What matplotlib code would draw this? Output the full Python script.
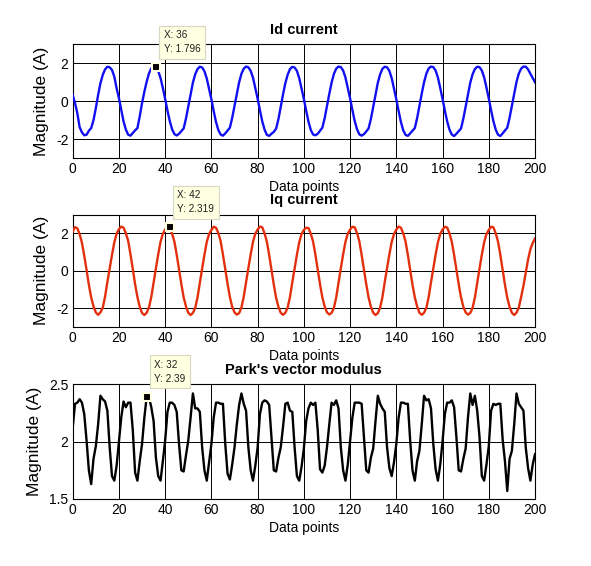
import matplotlib
matplotlib.use("Agg")
import matplotlib.pyplot as plt

plt.rcParams['font.family'] = ['Liberation Sans', 'DejaVu Sans']

# ---------------- data ----------------
id_current = [
    0.33, -0.10, -0.63, -1.37, -1.65, -1.80, -1.77, -1.56, -1.42, -1.00, -0.37, 0.33, 0.95, 1.39, 1.68, 1.82, 1.79, 1.65, 1.30, 0.68,
    0.16, -0.46, -1.07, -1.50, -1.77, -1.82, -1.68, -1.54, -1.42, -0.80, -0.10, 0.50, 1.03, 1.47, 1.74, 1.82, 1.796, 1.60, 1.22, 0.70,
    0.12, -0.50, -1.05, -1.48, -1.74, -1.81, -1.72, -1.58, -1.44, -0.92, -0.28, 0.35, 0.98, 1.42, 1.70, 1.82, 1.78, 1.58, 1.20, 0.66,
    0.10, -0.52, -1.10, -1.52, -1.76, -1.82, -1.70, -1.55, -1.40, -0.88, -0.25, 0.40, 1.00, 1.45, 1.72, 1.83, 1.79, 1.60, 1.24, 0.70,
    0.14, -0.48, -1.06, -1.50, -1.78, -1.83, -1.72, -1.62, -1.45, -0.95, -0.30, 0.36, 0.96, 1.40, 1.70, 1.81, 1.78, 1.60, 1.22, 0.68,
    0.12, -0.50, -1.08, -1.52, -1.76, -1.80, -1.72, -1.56, -1.40, -0.90, -0.26, 0.38, 0.98, 1.44, 1.72, 1.83, 1.80, 1.62, 1.25, 0.70,
    0.15, -0.47, -1.05, -1.48, -1.75, -1.82, -1.74, -1.60, -1.44, -0.94, -0.30, 0.34, 0.97, 1.42, 1.71, 1.82, 1.79, 1.60, 1.22, 0.66,
    0.10, -0.52, -1.10, -1.54, -1.78, -1.83, -1.70, -1.56, -1.42, -0.90, -0.24, 0.40, 1.00, 1.45, 1.73, 1.83, 1.80, 1.62, 1.25, 0.70,
    0.12, -0.50, -1.06, -1.50, -1.76, -1.84, -1.72, -1.58, -1.44, -0.92, -0.28, 0.36, 0.98, 1.42, 1.70, 1.82, 1.80, 1.62, 1.26, 0.72,
    0.15, -0.48, -1.05, -1.50, -1.77, -1.84, -1.70, -1.55, -1.40, -0.88, -0.24, 0.40, 1.02, 1.46, 1.72, 1.83, 1.82, 1.68, 1.45, 1.22,
    1.00,
]

iq_current = [
    2.09, 2.33, 2.27, 1.95, 1.50, 0.80, 0.05, -0.75, -1.42, -1.90, -2.22, -2.35, -2.22, -1.97, -1.38, -0.60, 0.12, 0.85, 1.52, 1.98,
    2.22, 2.36, 2.30, 2.00, 1.60, 0.88, 0.10, -0.72, -1.40, -1.92, -2.25, -2.36, -2.24, -1.95, -1.40, -0.62, 0.14, 0.88, 1.55, 1.98,
    2.20, 2.34, 2.319, 1.98, 1.55, 0.85, 0.08, -0.70, -1.42, -1.90, -2.24, -2.36, -2.25, -1.98, -1.42, -0.64, 0.12, 0.86, 1.54, 1.96,
    2.18, 2.35, 2.30, 2.02, 1.58, 0.86, 0.10, -0.70, -1.40, -1.92, -2.22, -2.34, -2.26, -1.96, -1.38, -0.60, 0.15, 0.88, 1.55, 1.98,
    2.20, 2.36, 2.32, 2.00, 1.55, 0.84, 0.06, -0.74, -1.44, -1.92, -2.24, -2.35, -2.24, -1.96, -1.40, -0.62, 0.12, 0.86, 1.52, 1.96,
    2.18, 2.30, 2.28, 1.98, 1.56, 0.86, 0.08, -0.72, -1.42, -1.90, -2.22, -2.33, -2.25, -1.98, -1.42, -0.64, 0.14, 0.88, 1.55, 1.98,
    2.20, 2.35, 2.32, 2.02, 1.58, 0.85, 0.08, -0.72, -1.42, -1.92, -2.24, -2.36, -2.26, -1.96, -1.40, -0.60, 0.14, 0.88, 1.54, 1.96,
    2.20, 2.36, 2.30, 2.00, 1.56, 0.84, 0.06, -0.74, -1.42, -1.90, -2.24, -2.35, -2.24, -1.97, -1.40, -0.62, 0.12, 0.86, 1.52, 1.97,
    2.20, 2.35, 2.31, 2.00, 1.55, 0.85, 0.08, -0.72, -1.42, -1.92, -2.22, -2.34, -2.25, -1.98, -1.42, -0.64, 0.12, 0.86, 1.52, 1.96,
    2.18, 2.35, 2.32, 2.00, 1.56, 0.85, 0.06, -0.74, -1.44, -1.92, -2.24, -2.36, -2.24, -1.96, -1.40, -0.80, -0.10, 0.60, 1.15, 1.48,
    1.72,
]

park_modulus = [
    2.12, 2.33, 2.34, 2.37, 2.34, 2.24, 2.01, 1.75, 1.63, 1.85, 1.96, 2.15, 2.40, 2.37, 2.35, 2.27, 1.95, 1.70, 1.66, 1.79,
    2.00, 2.21, 2.35, 2.30, 2.34, 2.34, 2.10, 1.73, 1.66, 1.83, 1.98, 2.21, 2.39, 2.39, 2.30, 2.18, 1.86, 1.70, 1.66, 1.83,
    2.01, 2.26, 2.34, 2.34, 2.32, 2.26, 1.98, 1.75, 1.74, 1.88, 2.01, 2.21, 2.42, 2.29, 2.29, 2.26, 1.95, 1.75, 1.66, 1.82,
    1.98, 2.21, 2.34, 2.34, 2.33, 2.33, 1.98, 1.72, 1.67, 1.80, 1.95, 2.15, 2.32, 2.42, 2.33, 2.27, 1.95, 1.75, 1.66, 1.79,
    1.95, 2.24, 2.34, 2.36, 2.35, 2.32, 2.04, 1.75, 1.74, 1.86, 1.95, 2.13, 2.33, 2.34, 2.27, 2.26, 1.95, 1.70, 1.66, 1.78,
    1.94, 2.18, 2.29, 2.34, 2.32, 2.34, 2.10, 1.76, 1.73, 1.79, 1.95, 2.15, 2.34, 2.32, 2.36, 2.29, 1.95, 1.75, 1.66, 1.80,
    2.01, 2.21, 2.34, 2.34, 2.34, 2.33, 2.04, 1.75, 1.73, 1.86, 1.94, 2.18, 2.40, 2.33, 2.29, 2.26, 1.95, 1.77, 1.70, 1.82,
    1.98, 2.21, 2.34, 2.34, 2.33, 2.33, 2.01, 1.75, 1.66, 1.83, 1.92, 2.15, 2.40, 2.36, 2.37, 2.29, 1.98, 1.76, 1.66, 1.80,
    2.00, 2.24, 2.34, 2.34, 2.36, 2.30, 2.04, 1.75, 1.74, 1.85, 1.94, 2.21, 2.42, 2.32, 2.40, 2.27, 2.04, 1.70, 1.66, 1.80,
    1.96, 2.27, 2.33, 2.32, 2.33, 2.33, 2.02, 1.83, 1.57, 1.85, 1.92, 2.15, 2.42, 2.33, 2.30, 2.27, 1.95, 1.77, 1.66, 1.80,
    1.89,
]

data_points = list(range(len(id_current)))

titles = ["Id current", "Iq current", "Park's vector modulus"]
series = [id_current, iq_current, park_modulus]
colors = ["#1010f0", "#e2300e", "#000000"]
ylims = [(-3, 3), (-3, 3), (1.5, 2.5)]
yticks = [[-2, 0, 2], [-2, 0, 2], [1.5, 2, 2.5]]
ytick_labels = [["-2", "0", "2"], ["-2", "0", "2"], ["1.5", "2", "2.5"]]
xticks = list(range(0, 201, 20))
tip_x = [36, 42, 32]

# ---------------- layout ----------------
W, H = 591, 566
fig = plt.figure(figsize=(W / 100, H / 100), dpi=100)
fig.patch.set_facecolor("white")

boxes_px = [(72.7, 44.4, 535.0, 158.0), (72.7, 214.6, 535.0, 327.0), (72.7, 384.3, 535.0, 499.0)]

for i in range(3):
    l, t, r, b = boxes_px[i]
    ax = fig.add_axes([l / W, 1 - b / H, (r - l) / W, (b - t) / H])
    ax.plot(data_points, series[i], color=colors[i], lw=1.7, zorder=3)
    ax.set_xlim(0, 200)
    ax.set_ylim(*ylims[i])
    ax.set_xticks(xticks)
    ax.set_yticks(yticks[i])
    ax.set_yticklabels(ytick_labels[i])
    ax.grid(True, color="black", lw=0.7)
    ax.set_axisbelow(True)
    ax.tick_params(direction="in", top=True, right=True, length=3, width=0.6,
                   labelsize=10, pad=3, colors="black")
    for s in ax.spines.values():
        s.set_color("black")
        s.set_linewidth(0.8)
    ax.set_title(titles[i], fontsize=10.5, fontweight="bold", pad=7.5)
    ax.set_xlabel("Data points", fontsize=10, labelpad=2.5)
    ax.set_ylabel("Magnitude (A)", fontsize=12.5, labelpad=5)

    # data tip
    tx = tip_x[i]
    ty = series[i][tx]
    ax.plot([tx], [ty], marker="s", ms=5.5, color="black", mec="#ffffe1",
            mew=1.5, zorder=6, clip_on=False)
    ax.annotate("X: {}\nY: {:g}".format(tx, ty), xy=(tx, ty), xytext=(5.5, 9.5),
                textcoords="offset points", ha="left", va="bottom", fontsize=7.2,
                color="#202020", linespacing=1.5,
                bbox=dict(boxstyle="square,pad=0.45", fc="#ffffe1", ec="#d8d8c0", lw=0.8),
                zorder=7, annotation_clip=False)

fig.savefig("out.png", dpi=100, facecolor="white")
